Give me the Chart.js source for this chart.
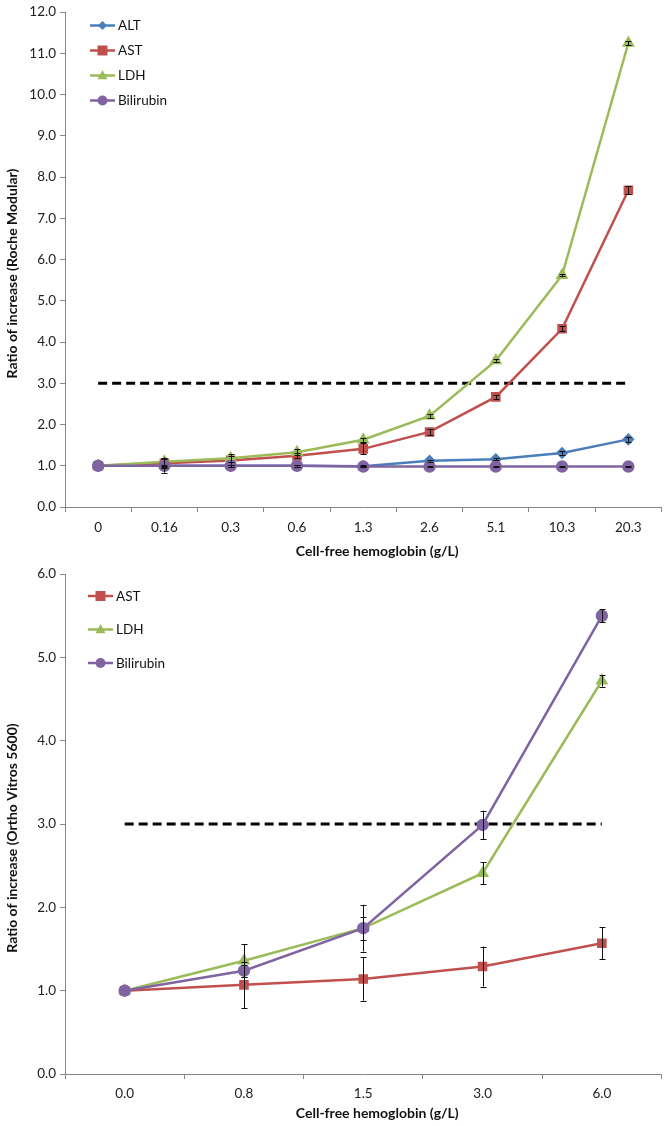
<!DOCTYPE html>
<html><head><meta charset="utf-8">
<script src="https://cdn.jsdelivr.net/npm/chart.js@4.4.0/dist/chart.umd.min.js"></script>
<style>html,body{margin:0;padding:0;background:#fff} canvas{display:block}</style>
</head><body>
<canvas id="c1" width="669" height="562"></canvas>
<canvas id="c2" width="669" height="564"></canvas>
<script>
// ---- Top chart data (Roche Modular) ----
const topCategories = ['0','0.16','0.3','0.6','1.3','2.6','5.1','10.3','20.3'];
const topALT  = [1.00,1.00,1.00,1.00,0.99,1.12,1.16,1.31,1.64];
const topAST  = [1.00,1.06,1.13,1.24,1.41,1.82,2.67,4.32,7.68];
const topLDH  = [1.00,1.10,1.18,1.33,1.63,2.21,3.55,5.62,11.25];
const topBili = [1.00,1.00,1.00,1.00,0.98,0.98,0.98,0.98,0.98];
const topALTErr  = [0,0.02,0.02,0.02,0.02,0.02,0.03,0.04,0.06];
const topASTErr  = [0,0.12,0.10,0.06,0.13,0.08,0.05,0.06,0.10];
const topLDHErr  = [0,0.10,0.10,0.08,0.05,0.05,0.03,0.03,0.05];
const topBiliErr = [0,0.17,0.03,0.02,0.02,0.01,0.01,0.01,0.01];
const topThreshold = [3,3,3,3,3,3,3,3,3];
const topYTicks = [0,1,2,3,4,5,6,7,8,9,10,11,12];

// ---- Bottom chart data (Ortho Vitros 5600) ----
const botCategories = ['0.0','0.8','1.5','3.0','6.0'];
const botAST  = [1.00,1.07,1.14,1.29,1.57];
const botLDH  = [1.00,1.36,1.75,2.41,4.72];
const botBili = [1.00,1.24,1.75,2.99,5.50];
const botASTErr  = [0,0.28,0.26,0.24,0.19];
const botLDHErr  = [0,0.20,0.28,0.13,0.07];
const botBiliErr = [0,0.07,0.14,0.17,0.08];
const botThreshold = [3,3,3,3,3];
const botYTicks = [0,1,2,3,4,5,6];

const FONT = "Lato, 'Open Sans', 'DejaVu Sans', sans-serif";
const COLORS = {ALT:'#4a7ebb', AST:'#c0504d', LDH:'#9bbb59', Bili:'#8064a2'};

function drawMarker(ctx, style, x, y, r, color){
  ctx.save();
  ctx.fillStyle = color;
  ctx.beginPath();
  if (style === 'rect') { ctx.rect(x-r, y-r, 2*r, 2*r); }
  else if (style === 'rectRot') { ctx.moveTo(x, y-r); ctx.lineTo(x+r, y); ctx.lineTo(x, y+r); ctx.lineTo(x-r, y); ctx.closePath(); }
  else if (style === 'triangle') { ctx.moveTo(x, y-r*1.1); ctx.lineTo(x+r, y+r*0.75); ctx.lineTo(x-r, y+r*0.75); ctx.closePath(); }
  else { ctx.arc(x, y, r, 0, Math.PI*2); }
  ctx.fill();
  ctx.restore();
}

const legendPlugin = {
  id: 'insideLegend',
  afterDraw(chart, args, opts) {
    const ctx = chart.ctx;
    let row = 0;
    chart.data.datasets.forEach(ds => {
      if (ds.hideInLegend) return;
      const y = opts.y0 + row * opts.dy;
      const x = opts.x;
      ctx.save();
      ctx.strokeStyle = ds.borderColor; ctx.lineWidth = 2.5;
      ctx.beginPath(); ctx.moveTo(x, y); ctx.lineTo(x + 25, y); ctx.stroke();
      drawMarker(ctx, ds.pointStyle, x + 12.5, y, ds.legendR || 5, ds.borderColor);
      ctx.fillStyle = '#111'; ctx.font = "13.5px " + FONT;
      ctx.textBaseline = 'middle'; ctx.textAlign = 'left';
      ctx.fillText(ds.label, x + 28, y + 0.5);
      ctx.restore();
      row++;
    });
  }
};

const axisTitlePlugin = {
  id: 'axisTitles',
  afterDraw(chart, args, opts) {
    const ctx = chart.ctx, a = chart.chartArea;
    ctx.save();
    ctx.fillStyle = '#111';
    ctx.font = "bold 14px " + FONT;
    ctx.textAlign = 'center'; ctx.textBaseline = 'middle';
    ctx.fillText(opts.x, (a.left + a.right) / 2 + opts.xShift, opts.xY);
    ctx.translate(opts.yX, (a.top + a.bottom) / 2 + opts.yShift);
    ctx.rotate(-Math.PI / 2);
    ctx.fillText(opts.y, 0, 0);
    ctx.restore();
  }
};

const errorBarPlugin = {
  id: 'errorBars',
  afterDatasetsDraw(chart) {
    const ctx = chart.ctx;
    const ys = chart.scales.y;
    chart.data.datasets.forEach((ds, di) => {
      if (!ds.errors) return;
      const meta = chart.getDatasetMeta(di);
      ctx.save();
      ctx.strokeStyle = '#111'; ctx.lineWidth = 1;
      meta.data.forEach((pt, i) => {
        const e = ds.errors[i];
        if (!e) return;
        const v = ds.data[i];
        const yt = ys.getPixelForValue(v + e), yb = ys.getPixelForValue(v - e);
        const x = Math.round(pt.x) + 0.5;
        ctx.beginPath();
        ctx.moveTo(x, yt); ctx.lineTo(x, yb);
        ctx.moveTo(x - 3, Math.round(yt) + 0.5); ctx.lineTo(x + 3, Math.round(yt) + 0.5);
        ctx.moveTo(x - 3, Math.round(yb) + 0.5); ctx.lineTo(x + 3, Math.round(yb) + 0.5);
        ctx.stroke();
      });
      ctx.restore();
    });
  }
};

function series(label, data, errors, key, style, order, r) {
  return {
    label, data, errors, order,
    borderColor: COLORS[key], backgroundColor: COLORS[key],
    pointBackgroundColor: COLORS[key], pointBorderColor: COLORS[key],
    pointStyle: style, pointRadius: r, pointHoverRadius: r, legendR: r,
    borderWidth: 2.5, tension: 0, fill: false
  };
}
function threshold(data) {
  return {
    label: 'threshold', data, hideInLegend: true, order: 10,
    borderColor: '#000', borderWidth: 3, borderDash: [9, 5],
    pointRadius: 0, tension: 0, fill: false
  };
}

function makeChart(id, cats, datasets, yTicks, yMax, yTitle, geom) {
  return new Chart(document.getElementById(id), {
    type: 'line',
    data: { labels: cats, datasets },
    plugins: [errorBarPlugin, legendPlugin, axisTitlePlugin],
    options: {
      responsive: false, animation: false,
      layout: { padding: { top: geom.top, right: geom.right, left: 0, bottom: 0 } },
      plugins: {
        legend: { display: false }, tooltip: { enabled: false },
        insideLegend: geom.legend,
        axisTitles: { x: 'Cell-free hemoglobin (g/L)', y: yTitle, xShift: 14, xY: geom.titleY, yX: 12, yShift: geom.yShift }
      },
      scales: {
        x: {
          type: 'category', offset: true,
          grid: { display: true, offset: true, drawOnChartArea: false, drawTicks: true, tickLength: 5, color: '#868686' },
          border: { display: true, color: '#868686', width: 1 },
          ticks: { color: '#222', font: { family: FONT, size: 13.5 }, padding: geom.tickPad, maxRotation: 0 },
          afterFit(s) { s.height = geom.xh; }
        },
        y: {
          min: 0, max: yMax,
          afterBuildTicks(s) { s.ticks = yTicks.map(v => ({ value: v })); },
          grid: { display: true, drawOnChartArea: false, drawTicks: true, tickLength: 5, color: '#868686' },
          border: { display: true, color: '#868686', width: 1 },
          ticks: { color: '#222', font: { family: FONT, size: 13.5 }, padding: 4,
                   callback: v => Number(v).toFixed(1) },
          afterFit(s) { s.width = 65; }
        }
      }
    }
  });
}

makeChart('c1', topCategories, [
  threshold(topThreshold),
  series('ALT', topALT, topALTErr, 'ALT', 'rectRot', 3, 4.5),
  series('AST', topAST, topASTErr, 'AST', 'rect', 2, 5),
  series('LDH', topLDH, topLDHErr, 'LDH', 'triangle', 1, 5),
  series('Bilirubin', topBili, topBiliErr, 'Bili', 'circle', 0, 5)
], topYTicks, 12, 'Ratio of increase (Roche Modular)',
  { top: 7, right: 4, xh: 55, tickPad: 8, titleY: 551, yShift: 14, legend: { x: 90, y0: 25.5, dy: 25 } });

makeChart('c2', botCategories, [
  threshold(botThreshold),
  series('AST', botAST, botASTErr, 'AST', 'rect', 2, 5),
  series('LDH', botLDH, botLDHErr, 'LDH', 'triangle', 1, 5),
  series('Bilirubin', botBili, botBiliErr, 'Bili', 'circle', 0, 5)
], botYTicks, 6, 'Ratio of increase (Ortho Vitros 5600)',
  { top: 11, right: 2, xh: 52, tickPad: 7, titleY: 551, yShift: 14, legend: { x: 88, y0: 34, dy: 33.5 } });
</script>
</body></html>
